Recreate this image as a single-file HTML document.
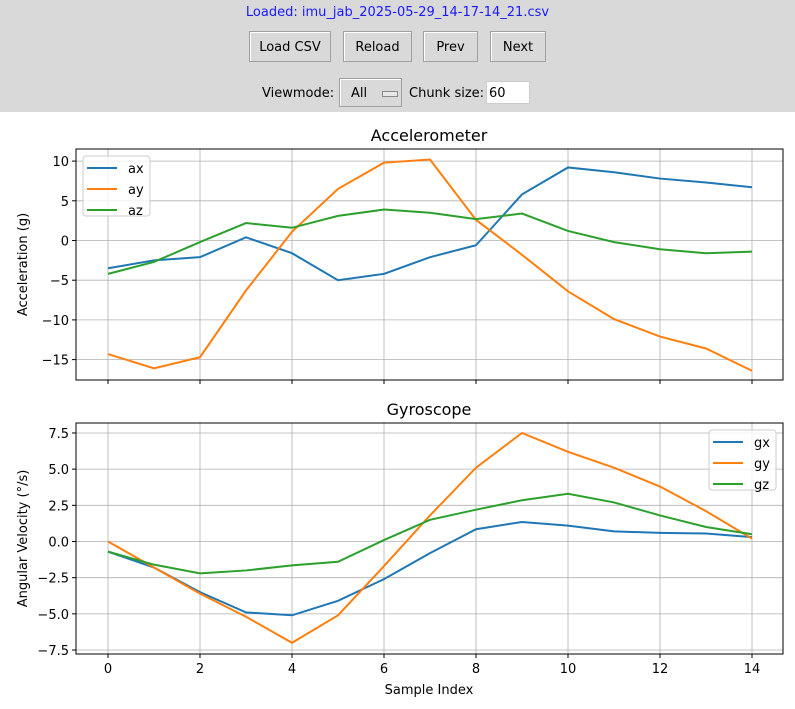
<!DOCTYPE html>
<html><head><meta charset="utf-8"><style>
body{margin:0;width:795px;height:709px;overflow:hidden;background:#fff;font-family:"DejaVu Sans","Liberation Sans",sans-serif;}
#top{position:absolute;left:0;top:0;width:795px;height:112px;background:#d9d9d9;}
.btn{position:absolute;top:31px;height:31px;border:1px solid #a0a0a0;background:#d9d9d9;font-size:13px;line-height:31px;text-align:center;box-sizing:border-box;box-shadow:inset 1px 1px #fff;}
.lbl{position:absolute;font-size:13px;}
</style></head><body>
<div id="top">
<div class="lbl" style="left:0;width:795px;text-align:center;top:5px;color:#1a1aff;">Loaded: imu_jab_2025-05-29_14-17-14_21.csv</div>
<div class="btn" style="left:249px;width:82px;">Load CSV</div>
<div class="btn" style="left:343px;width:69px;">Reload</div>
<div class="btn" style="left:423px;width:55px;">Prev</div>
<div class="btn" style="left:490px;width:56px;">Next</div>
<div class="lbl" style="left:262px;top:86px;">Viewmode:</div>
<div class="btn" style="left:339px;top:78px;width:63px;height:29px;line-height:29px;text-align:left;padding-left:11px;">All<span style="position:absolute;left:42px;top:12px;width:14px;height:4px;border:1px solid #888;background:#e8e8e8;"></span></div>
<div class="lbl" style="left:409px;top:86px;">Chunk size:</div>
<div style="position:absolute;left:486px;top:81px;width:44px;height:23px;background:#fff;border:1px solid #ccc;box-sizing:border-box;font-size:13px;line-height:23px;padding-left:2px;">60</div>
</div>
<svg id="chart" width="795" height="709" style="position:absolute;left:0;top:0"></svg>
<script>
const xs=[0,1,2,3,4,5,6,7,8,9,10,11,12,13,14];
const ax=[-3.5,-2.5,-2.1,0.4,-1.6,-5.0,-4.2,-2.1,-0.6,5.8,9.2,8.6,7.8,7.3,6.7];
const ay=[-14.3,-16.1,-14.7,-6.3,1.1,6.5,9.8,10.2,2.6,-1.8,-6.4,-9.9,-12.1,-13.6,-16.4];
const az=[-4.2,-2.7,-0.2,2.2,1.6,3.1,3.9,3.5,2.7,3.4,1.2,-0.2,-1.1,-1.6,-1.4];
const gx=[-0.7,-1.8,-3.5,-4.9,-5.1,-4.1,-2.6,-0.8,0.85,1.35,1.1,0.7,0.6,0.55,0.3];
const gy=[0,-1.8,-3.6,-5.2,-7.0,-5.1,-1.7,1.8,5.1,7.5,6.2,5.1,3.8,2.1,0.2];
const gz=[-0.7,-1.6,-2.2,-2.0,-1.65,-1.4,0.1,1.5,2.2,2.85,3.3,2.7,1.8,1.0,0.5];
const xTicks=[0,2,4,6,8,10,12,14];
const accTicks=[10,5,0,-5,-10,-15];
const gyrTicks=[7.5,5.0,2.5,0.0,-2.5,-5.0,-7.5];
const accTickLabels=["10","5","0","\u22125","\u221210","\u221215"];
const gyrTickLabels=["7.5","5.0","2.5","0.0","\u22122.5","\u22125.0","\u22127.5"];
const colors=["#1f77b4","#ff7f0e","#2ca02c"];
const NS="http://www.w3.org/2000/svg";
const svg=document.getElementById('chart');
function mk(t,a,p){const e=document.createElementNS(NS,t);for(const k in a)e.setAttribute(k,a[k]);(p||svg).appendChild(e);return e;}
const X=v=>108+v*46;
function panel(cfg){
 const g=mk('g',{});
 
 
 const Y=v=>cfg.y0-v*cfg.k;
 mk('rect',{x:76,y:cfg.top,width:707,height:cfg.bot-cfg.top,fill:'#fff'},g);
 xTicks.forEach(t=>{const l=mk('line',{x1:X(t),x2:X(t),y1:cfg.top,y2:cfg.bot,stroke:'#b0b0b0','stroke-width':0.8},g);
  
  mk('line',{x1:X(t),x2:X(t),y1:cfg.bot,y2:cfg.bot+4,stroke:'#000'},g);
  if(cfg.xl){const tx=mk('text',{x:X(t),y:cfg.bot+19,'text-anchor':'middle','font-size':13},g);tx.textContent=t;
   }});
 cfg.ticks.forEach((t,i)=>{const l=mk('line',{x1:76,x2:783,y1:Y(t),y2:Y(t),stroke:'#b0b0b0','stroke-width':0.8},g);
  
  mk('line',{x1:72,x2:76,y1:Y(t),y2:Y(t),stroke:'#000'},g);
  const tx=mk('text',{x:69,y:Y(t)+5,'text-anchor':'end','font-size':13},g);tx.textContent=cfg.labels[i];
  });
 cfg.series.forEach((s,i)=>{const p=mk('polyline',{points:s.map((v,j)=>X(xs[j])+','+Y(v)).join(' '),fill:'none',stroke:colors[i],'stroke-width':2},g);
  });
 mk('rect',{x:76,y:cfg.top,width:707,height:cfg.bot-cfg.top,fill:'none',stroke:'#000','stroke-width':1},g);
 const t=mk('text',{x:429,y:cfg.top-8,'text-anchor':'middle','font-size':16},g);t.textContent=cfg.title;
 
 const yl=mk('text',{x:0,y:0,'text-anchor':'middle','font-size':13,transform:`translate(27,${(cfg.top+cfg.bot)/2}) rotate(-90)`},g);yl.textContent=cfg.ylab;
 
 const lg=mk('g',{},g);
 mk('rect',{x:cfg.lx,y:cfg.ly,width:67,height:60,rx:3,fill:'#fff','fill-opacity':0.8,stroke:'#ccc'},lg);
 cfg.names.forEach((n,i)=>{const yy=cfg.ly+12+i*21;
  mk('line',{x1:cfg.lx+4,x2:cfg.lx+34,y1:yy,y2:yy,stroke:colors[i],'stroke-width':2},lg);
  const tx=mk('text',{x:cfg.lx+45,y:yy+5,'font-size':13},lg);tx.textContent=n;
  });
}
panel({name:'accelerometer-panel',top:149,bot:380,y0:240.5,k:7.94,ticks:accTicks,labels:accTickLabels,series:[ax,ay,az],names:['ax','ay','az'],title:'Accelerometer',ylab:'Acceleration (g)',lx:83,ly:156,xl:false});
panel({name:'gyroscope-panel',top:423,bot:654,y0:541.5,k:14.47,ticks:gyrTicks,labels:gyrTickLabels,series:[gx,gy,gz],names:['gx','gy','gz'],title:'Gyroscope',ylab:'Angular Velocity (°/s)',lx:709,ly:430,xl:true});
const xt=mk('text',{x:429,y:694,'text-anchor':'middle','font-size':13});xt.textContent='Sample Index';


</script>
</body></html>
